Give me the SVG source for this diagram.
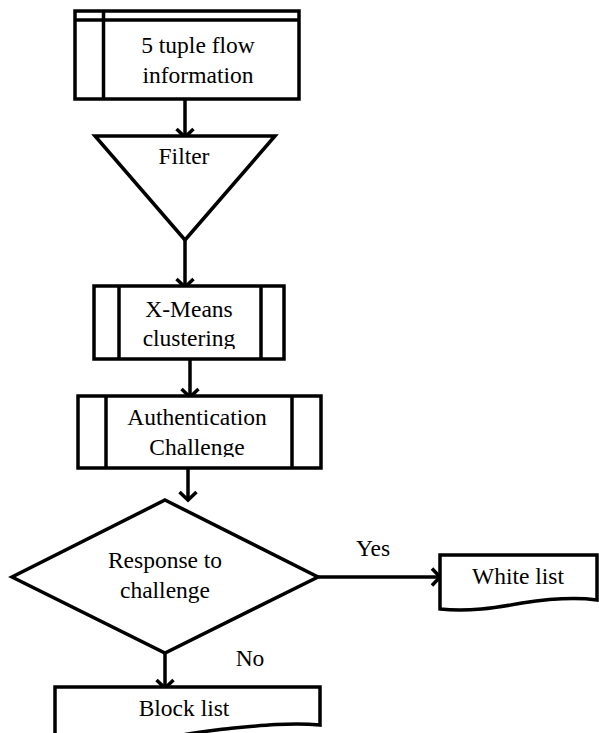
<svg xmlns="http://www.w3.org/2000/svg" width="599" height="733" viewBox="0 0 599 733">
  <style>
    .shape { fill: #ffffff; stroke: #000000; stroke-width: 3.5; stroke-linejoin: miter; }
    .rule { fill: none; stroke: #000000; stroke-width: 3.5; }
    .edge { fill: none; stroke: #000000; stroke-width: 3.5; marker-end: url(#head); }
    .label { font-family: "Liberation Serif", "Times New Roman", serif; font-size: 23.5px; fill: #000000; text-anchor: middle; }
  </style>
  <defs>
    <marker id="head" markerUnits="userSpaceOnUse" viewBox="-12 -12 24 24" markerWidth="24" markerHeight="24" refX="-2" refY="0" orient="auto">
      <path d="M-9,-8.5 L-1,0 L-9,8.5" fill="none" stroke="#000000" stroke-width="3.5"/>
    </marker>
    <clipPath id="clipXm"><rect x="119" y="286" width="142" height="63"/></clipPath>
    <clipPath id="clipAuth"><rect x="106" y="397" width="186" height="60"/></clipPath>
  </defs>
  <rect width="599" height="733" fill="#ffffff"/>

  <!-- connectors -->
  <g id="connectors">
    <line class="edge" x1="185" y1="99" x2="185" y2="136"/>
    <line class="edge" x1="185" y1="240" x2="185" y2="286"/>
    <line class="edge" x1="190" y1="359" x2="190" y2="396"/>
    <line class="edge" x1="188" y1="468" x2="188" y2="499"/>
    <line class="edge" x1="318" y1="577" x2="439" y2="577"/>
    <line class="edge" x1="165" y1="653" x2="165" y2="687"/>
    <text class="label" x="373" y="556">Yes</text>
    <text class="label" x="250" y="666">No</text>
  </g>

  <!-- input: 5 tuple flow information -->
  <g id="flowInfo">
    <rect class="shape" x="75" y="11" width="224" height="88"/>
    <line class="rule" x1="75" y1="20" x2="299" y2="20"/>
    <line class="rule" x1="103.5" y1="11" x2="103.5" y2="99"/>
    <text class="label" x="198" y="53">5 tuple flow</text>
    <text class="label" x="198" y="83">information</text>
  </g>

  <!-- filter -->
  <g id="filter">
    <polygon class="shape" points="95,136 275,136 185,240"/>
    <text class="label" x="184" y="164">Filter</text>
  </g>

  <!-- X-Means clustering -->
  <g id="xmeans">
    <rect class="shape" x="94" y="286" width="190" height="73"/>
    <line class="rule" x1="119" y1="286" x2="119" y2="359"/>
    <line class="rule" x1="261" y1="286" x2="261" y2="359"/>
    <g clip-path="url(#clipXm)">
      <text class="label" x="189" y="317">X-Means</text>
      <text class="label" x="189" y="346">clustering</text>
    </g>
  </g>

  <!-- authentication challenge -->
  <g id="authChallenge">
    <rect class="shape" x="78" y="396" width="243" height="72"/>
    <line class="rule" x1="106" y1="396" x2="106" y2="468"/>
    <line class="rule" x1="292" y1="396" x2="292" y2="468"/>
    <g clip-path="url(#clipAuth)">
      <text class="label" x="197" y="425">Authentication</text>
      <text class="label" x="197" y="455">Challenge</text>
    </g>
  </g>

  <!-- decision -->
  <g id="response">
    <polygon class="shape" points="165,500 318,577 165,653 12,577"/>
    <text class="label" x="165" y="568">Response to</text>
    <text class="label" x="165" y="598">challenge</text>
  </g>

  <!-- outcome: white list -->
  <g id="whiteList">
    <path class="shape" d="M440,555 L597,555 L597,600 C575,597 548,599 522,603 C495,608 468,612 440,609 Z"/>
    <text class="label" x="518" y="584">White list</text>
  </g>

  <!-- outcome: block list -->
  <g id="blockList">
    <path class="shape" d="M55,745 L55,687 L320,687 L320,725 C290,722 255,726 225,729 C200,732 180,734 160,740 L140,745 Z"/>
    <text class="label" x="184" y="716">Block list</text>
  </g>
</svg>
